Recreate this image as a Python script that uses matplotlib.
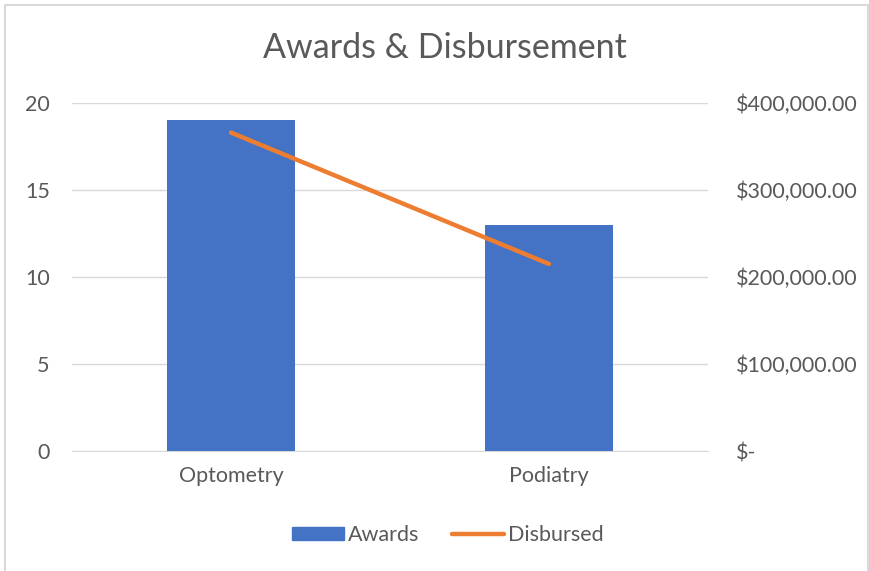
import matplotlib.pyplot as plt
from matplotlib.patches import Rectangle
from matplotlib.lines import Line2D
from matplotlib.patches import Patch

categories = ['Optometry', 'Podiatry']
awards = [19, 13]
disbursed = [366000, 215000]

left_ticks = [0, 5, 10, 15, 20]
right_ticks = [0, 100000, 200000, 300000, 400000]
right_labels = ['$-', '$100,000.00', '$200,000.00', '$300,000.00', '$400,000.00']

txt = '#595959'
grid = '#d9d9d9'
plt.rcParams['font.family'] = ['Lato', 'DejaVu Sans']

fig = plt.figure(figsize=(8.7, 5.71), dpi=100)
ax = fig.add_axes([72 / 870, 1 - 451 / 571, 636 / 870, 348 / 571])
x = list(range(len(categories)))
ax.bar(x, awards, width=0.4, color='#4472c4', zorder=3)
ax.set_xlim(-0.5, 1.5)
ax.set_ylim(0, 20)
ax.set_yticks(left_ticks)
ax.set_xticks(x)
ax.set_xticklabels(categories)
ax.grid(axis='y', color=grid, lw=1, zorder=0)
for s in ax.spines.values():
    s.set_visible(False)
ax.spines['bottom'].set_visible(True)
ax.spines['bottom'].set_color(grid)
ax.tick_params(length=0, labelsize=15.5, labelcolor=txt)
ax.tick_params(axis='y', pad=16)
ax.tick_params(axis='x', pad=11)

ax2 = ax.twinx()
ax2.plot(x, disbursed, color='#ed7d31', lw=3.2, solid_capstyle='round', zorder=4)
ax2.set_ylim(0, 400000)
ax2.set_yticks(right_ticks)
ax2.set_yticklabels(right_labels)
for s in ax2.spines.values():
    s.set_visible(False)
ax2.tick_params(length=0, labelsize=15.5, labelcolor=txt, pad=20)

fig.text(0.511, 1 - 48 / 571, 'Awards & Disbursement', ha='center', va='center',
         fontsize=24.5, color=txt)

handles = [Patch(color='#4472c4'), Line2D([0], [0], color='#ed7d31', lw=3.2, solid_capstyle='round')]
fig.legend(handles, ['Awards', 'Disbursed'], loc='center', bbox_to_anchor=(0.515, 1 - 535 / 571),
           ncol=2, frameon=False, fontsize=15.5, labelcolor=txt, handlelength=2.4,
           handleheight=0.55, handletextpad=0.2, columnspacing=1.5)

fig.patches.append(Rectangle((5 / 870, -0.01), 863 / 870, 1 - 5 / 571 + 0.01, transform=fig.transFigure,
                             fill=False, edgecolor=grid, lw=1.5))

fig.savefig('out.png', dpi=100)
